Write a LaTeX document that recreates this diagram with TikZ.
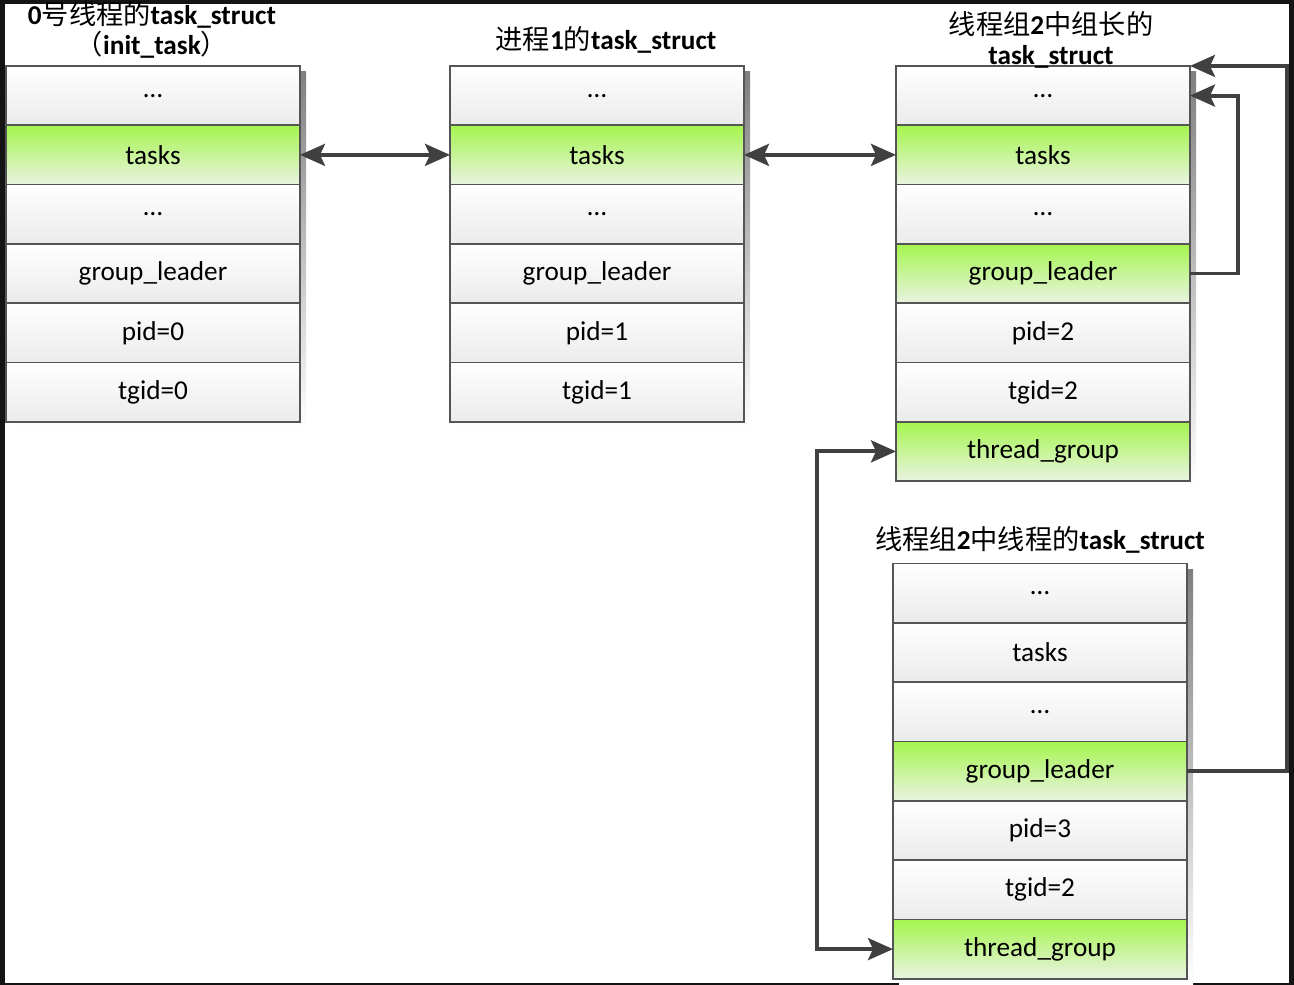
\documentclass[tikz,border=0pt]{standalone}
\usepackage{fontspec}
\setmainfont{Carlito}
\newfontfamily\cjk{Noto Sans CJK SC}
\usetikzlibrary{positioning,arrows.meta,backgrounds,calc}
\definecolor{boxline}{HTML}{555555}
\definecolor{cellgray}{HTML}{EBEBEB}
\definecolor{cellgreen}{HTML}{A4F54E}
\definecolor{cellpale}{HTML}{EAF3E2}
\definecolor{arrowgray}{HTML}{404040}
\definecolor{shade}{HTML}{EFEFEF}
\newcommand{\zh}[1]{{\cjk\mdseries #1}}

\begin{document}
\begin{tikzpicture}[
  field/.style={draw=boxline,line width=0.9pt,outer sep=0pt,inner sep=0pt,minimum width=5.88cm,minimum height=1.186cm,top color=white,bottom color=cellgray,font=\fontsize{15.5}{18}\selectfont},
  hot/.style={field,top color=cellgreen,bottom color=cellpale},
  title/.style={align=center,font=\fontsize{15.5}{17}\selectfont\bfseries},
  link/.style={draw=arrowgray,line width=2.2pt,-{Stealth[length=0.5cm,width=0.44cm,inset=0.1cm]}},
  twoway/.style={link,{Stealth[length=0.5cm,width=0.44cm,inset=0.1cm]}-{Stealth[length=0.5cm,width=0.44cm,inset=0.1cm]}}]
      \useasboundingbox (0,0) rectangle (25.88,-19.7);
      \begin{scope}[on background layer]
        \fill[black!92] (0,0) rectangle (25.88,-19.7);
        \fill[white] (0.1,-0.08) rectangle (25.78,-19.66);
      \end{scope}

      \node[field] (a1) at (3.06,-1.912) {…};
      \node[hot,below=0pt of a1] (a2) {tasks};
      \node[field,below=0pt of a2] (a3) {…};
      \node[field,below=0pt of a3] (a4) {group\_leader};
      \node[field,below=0pt of a4] (a5) {pid=0};
      \node[field,below=0pt of a5] (a6) {tgid=0};

      \node[field] (b1) at (11.94,-1.912) {…};
      \node[hot,below=0pt of b1] (b2) {tasks};
      \node[field,below=0pt of b2] (b3) {…};
      \node[field,below=0pt of b3] (b4) {group\_leader};
      \node[field,below=0pt of b4] (b5) {pid=1};
      \node[field,below=0pt of b5] (b6) {tgid=1};

      \node[field] (c1) at (20.86,-1.912) {…};
      \node[hot,below=0pt of c1] (c2) {tasks};
      \node[field,below=0pt of c2] (c3) {…};
      \node[hot,below=0pt of c3] (c4) {group\_leader};
      \node[field,below=0pt of c4] (c5) {pid=2};
      \node[field,below=0pt of c5] (c6) {tgid=2};
      \node[hot,below=0pt of c6] (c7) {thread\_group};

      \node[field] (d1) at (20.8,-11.866) {…};
      \node[field,below=0pt of d1] (d2) {tasks};
      \node[field,below=0pt of d2] (d3) {…};
      \node[hot,below=0pt of d3] (d4) {group\_leader};
      \node[field,below=0pt of d4] (d5) {pid=3};
      \node[field,below=0pt of d5] (d6) {tgid=2};
      \node[hot,below=0pt of d6] (d7) {thread\_group};

      \begin{scope}[on background layer]
        \fill[shade] ($(a1.north west)+(0.12,-0.12)$) rectangle ($(a6.south east)+(0.12,-0.12)$);
        \fill[shade] ($(b1.north west)+(0.12,-0.12)$) rectangle ($(b6.south east)+(0.12,-0.12)$);
        \fill[shade] ($(c1.north west)+(0.12,-0.12)$) rectangle ($(c7.south east)+(0.12,-0.12)$);
        \fill[shade] ($(d1.north west)+(0.12,-0.12)$) rectangle ($(d7.south east)+(0.12,-0.12)$);
      \end{scope}

      \node[title] (t1) at (3.04,-0.6) {0\zh{号线程的}task\_struct\\\zh{（}init\_task\zh{）}};
      \node[title] (t2) at (12.12,-0.8) {\zh{进程}1\zh{的}task\_struct};
      \node[title] (t3) at (21.02,-0.8) {\zh{线程组}2\zh{中组长的}\\task\_struct};
      \node[title] (t4) at (20.8,-10.8) {\zh{线程组}2\zh{中线程的}task\_struct};

      \draw[twoway] (a2.east) -- (b2.west);
      \draw[twoway] (b2.east) -- (c2.west);
      \draw[link] (c4.east) -- ++(0.96,0) |- (c1.east);
      \draw[link] (d4.east) -- ++(2,0) |- (c1.north east);
      \draw[twoway] (c7.west) -- ++(-1.58,0) |- (d7.west);
   \end{tikzpicture}
\end{document}
